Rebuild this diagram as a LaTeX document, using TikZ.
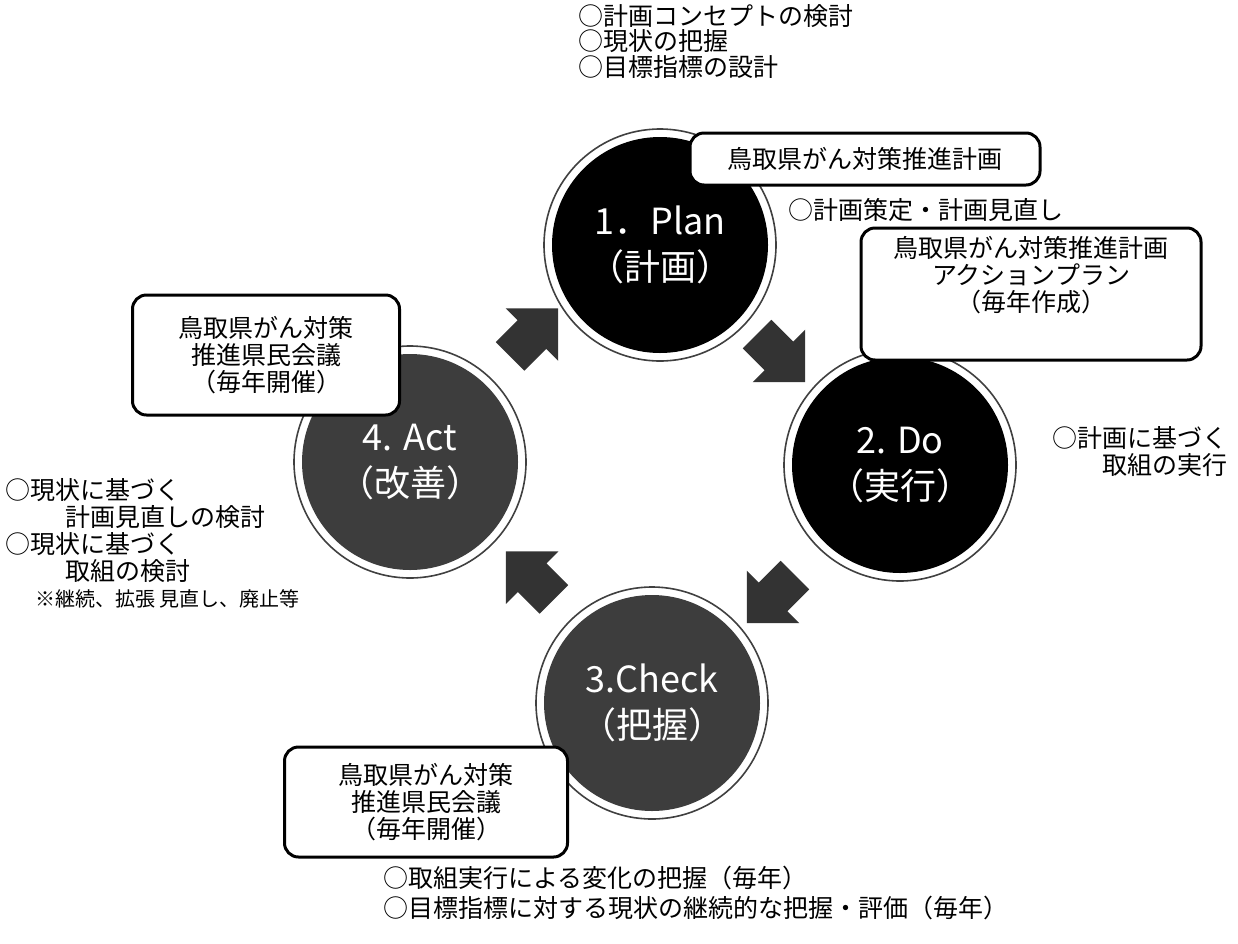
\documentclass[tikz,border=0pt]{standalone}
\usepackage{fontspec}
\setmainfont{Noto Sans CJK JP}
\usetikzlibrary{shapes.arrows,calc}
\begin{document}
\begin{tikzpicture}[x=1pt,y=-1pt,
  disk/.style={circle, minimum size=216pt, inner sep=0pt, text=white, align=center, font=\fontsize{36}{46}\selectfont},
  ring/.style={draw=black!75, line width=1.6pt},
  callout/.style={draw=black, line width=3pt, rounded corners=14pt, fill=white, align=center, inner sep=0pt, font=\fontsize{25}{27}\selectfont},
  note/.style={font=\fontsize{25}{27}\selectfont, inner sep=0pt},
  fatarrow/.style={single arrow, fill=black!80, draw=none, inner xsep=0pt, inner ysep=20pt, minimum height=68pt, single arrow head extend=17pt}
]
\useasboundingbox (0,0) rectangle (1238,943);
\fill[white] (0,0) rectangle (1238,943);

% circles
\node[disk, fill=black] (plan) at (660,245) {1．Plan\\（計画）};
\node[disk, fill=black] (do) at (900,465) {2. Do\\（実行）};
\node[disk, fill=black!76] (check) at (652,703) {3.Check\\（把握）};
\node[disk, fill=black!76] (act) at (410,462) {4. Act\\（改善）};
\foreach \c in {plan,do,check,act} \draw[ring] (\c) circle (116);

% arrows
\node[fatarrow, rotate=-45] (a12) at ($(plan)!0.5!(do)+(-6,-4)$) {};
\node[fatarrow, rotate=-135] (a23) at ($(do)!0.5!(check)+(2,8)$) {};
\node[fatarrow, rotate=135] (a34) at ($(check)!0.5!(act)+(6,0)$) {};
\node[fatarrow, rotate=45] (a41) at ($(act)!0.5!(plan)+(-8,-14)$) {};

% callouts
\node[callout, minimum width=350pt, minimum height=52pt] (planbox) at (865,159) {鳥取県がん対策推進計画};
\node[callout, minimum width=340pt, minimum height=132pt] (dobox) at (1031,294) {鳥取県がん対策推進計画\\アクションプラン\\（毎年作成）\rule[-40pt]{0pt}{0pt}};
\node[callout, minimum width=267pt, minimum height=120pt] (actbox) at (266,355) {鳥取県がん対策\\推進県民会議\\（毎年開催）};
\node[callout, minimum width=283pt, minimum height=110pt] (checkbox) at (426,802) {鳥取県がん対策\\推進県民会議\\（毎年開催）};

% notes
\node[note, align=left, anchor=north west, font=\fontsize{25}{25.5}\selectfont] (plannote) at (578,4) {○計画コンセプトの検討\\○現状の把握\\○目標指標の設計};
\node[note, anchor=west] (plannote2) at (788,210) {○計画策定・計画見直し};
\node[note, align=right, anchor=north east] (donote) at (1228,426) {○計画に基づく\\取組の実行};
\node[note, align=left, anchor=north west] (actnote) at (5,478) {○現状に基づく\\\hspace*{60pt}計画見直しの検討\\○現状に基づく\\\hspace*{60pt}取組の検討};
\node[note, anchor=north west, font=\fontsize{20}{22}\selectfont] (actnote2) at (35,589) {※継続、拡張 見直し、廃止等};
\node[note, align=left, anchor=north west, font=\fontsize{25}{30}\selectfont] (checknote) at (383,866) {○取組実行による変化の把握（毎年）\\○目標指標に対する現状の継続的な把握・評価（毎年）};
\end{tikzpicture}
\end{document}
